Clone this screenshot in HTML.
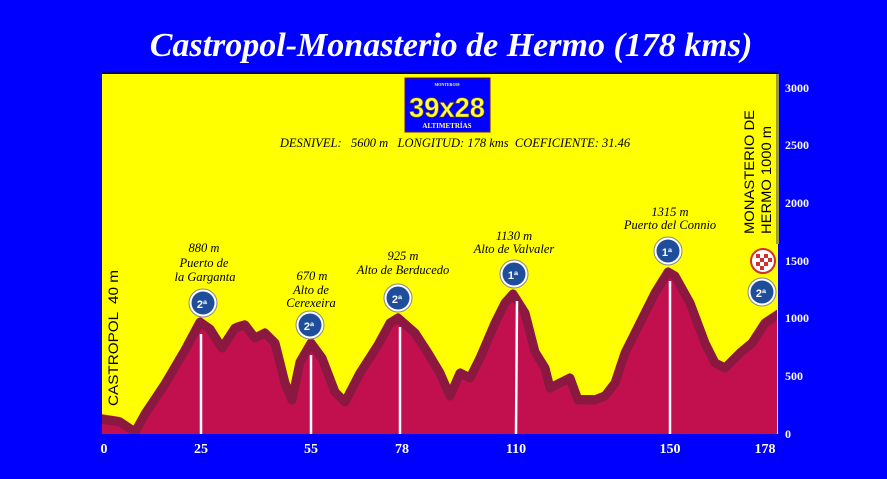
<!DOCTYPE html>
<html><head><meta charset="utf-8"><style>
body{margin:0;width:887px;height:479px;background:#0000ff;overflow:hidden}
svg{display:block}
.t{font-family:"Liberation Serif",serif;font-style:italic;font-size:12.5px;fill:#000}
.ax{font-family:"Liberation Serif",serif;font-weight:bold;fill:#fff}
</style></head><body>
<svg width="887" height="479" viewBox="0 0 887 479">
<defs><clipPath id="c"><rect x="102" y="74" width="675" height="360"/></clipPath></defs>
<rect x="0" y="0" width="887" height="479" fill="#0000ff"/>
<text x="451" y="56" text-anchor="middle" font-family="Liberation Serif,serif" font-style="italic" font-weight="bold" font-size="34" fill="#fff">Castropol-Monasterio de Hermo (178 kms)</text>
<rect x="102" y="71" width="676" height="4" fill="#000080"/>
<rect x="102" y="74" width="676" height="360" fill="#ffff00"/>
<rect x="776" y="74" width="3" height="170" fill="#9a9a40"/>
<g clip-path="url(#c)">
<polygon fill="#c2104f" points="100,414 120,417 135,427 145,409 165,379 185,345 200,317 210,324 222,343 235,323 245,320 255,333 265,328 275,338 285,378 292,395 300,357 311,338 322,353 335,387 345,397 360,368 378,340 390,318 398,313 415,328 428,348 440,368 450,391 460,368 470,373 480,353 495,318 505,298 513,289 525,308 535,347 545,363 550,383 560,378 570,373 578,395 595,395 605,391 615,378 625,348 640,318 655,288 668,267 675,271 690,298 705,338 715,358 725,363 740,348 752,338 765,318 780,308 780,436 100,436"/>
<polyline fill="none" stroke="#8a1840" stroke-width="9" stroke-linejoin="round" transform="translate(0,5)" points="100,414 120,417 135,427 145,409 165,379 185,345 200,317 210,324 222,343 235,323 245,320 255,333 265,328 275,338 285,378 292,395 300,357 311,338 322,353 335,387 345,397 360,368 378,340 390,318 398,313 415,328 428,348 440,368 450,391 460,368 470,373 480,353 495,318 505,298 513,289 525,308 535,347 545,363 550,383 560,378 570,373 578,395 595,395 605,391 615,378 625,348 640,318 655,288 668,267 675,271 690,298 705,338 715,358 725,363 740,348 752,338 765,318 780,308"/>
</g>
<g stroke="#fff" stroke-width="2.5">
<line x1="201" y1="334" x2="201" y2="434"/><line x1="311" y1="355" x2="311" y2="434"/>
<line x1="400" y1="327" x2="400" y2="434"/><line x1="517" y1="301" x2="516" y2="434"/>
<line x1="670" y1="281" x2="670" y2="434"/>
</g>
<g font-family="Liberation Sans,sans-serif" font-weight="bold" font-size="11" fill="#fff" text-anchor="middle">
<g><circle cx="203" cy="303" r="14" fill="#fff" stroke="#888"/><circle cx="203" cy="303" r="11.5" fill="#1e4e9a"/><text x="202" y="308">2ª</text></g>
<g><circle cx="310" cy="325" r="14" fill="#fff" stroke="#888"/><circle cx="310" cy="325" r="11.5" fill="#1e4e9a"/><text x="309" y="330">2ª</text></g>
<g><circle cx="398" cy="298" r="14" fill="#fff" stroke="#888"/><circle cx="398" cy="298" r="11.5" fill="#1e4e9a"/><text x="397" y="303">2ª</text></g>
<g><circle cx="514" cy="274" r="14" fill="#fff" stroke="#888"/><circle cx="514" cy="274" r="11.5" fill="#1e4e9a"/><text x="513" y="279">1ª</text></g>
<g><circle cx="668" cy="251" r="14" fill="#fff" stroke="#888"/><circle cx="668" cy="251" r="11.5" fill="#1e4e9a"/><text x="667" y="256">1ª</text></g>
<g><circle cx="762" cy="292" r="14" fill="#fff" stroke="#888"/><circle cx="762" cy="292" r="11.5" fill="#1e4e9a"/><text x="761" y="297">2ª</text></g>
</g>
<circle cx="763" cy="261" r="12" fill="#fff" stroke="#d03030" stroke-width="2"/>
<g fill="#d03030"><rect x="756" y="254" width="4" height="4"/><rect x="764" y="254" width="4" height="4"/><rect x="760" y="258" width="4" height="4"/><rect x="768" y="258" width="4" height="4"/><rect x="756" y="262" width="4" height="4"/><rect x="764" y="262" width="4" height="4"/><rect x="760" y="266" width="4" height="4"/></g>
<rect x="405" y="78" width="85" height="54" fill="#0000ff" stroke="#6a1030"/>
<text x="447" y="86" text-anchor="middle" font-family="Liberation Serif,serif" font-size="4" font-weight="bold" fill="#ffff60">MONTERO39</text>
<text x="447" y="117" text-anchor="middle" font-family="Liberation Sans,sans-serif" font-weight="bold" font-size="28" fill="#ffff40" stroke="#806000" stroke-width="0.6" textLength="76" lengthAdjust="spacingAndGlyphs">39x28</text>
<text x="447" y="128" text-anchor="middle" font-family="Liberation Serif,serif" font-weight="bold" font-size="7" fill="#ffff80">ALTIMETRÍAS</text>
<text x="455" y="147" text-anchor="middle" class="t" font-size="12" xml:space="preserve">DESNIVEL:   5600 m   LONGITUD: 178 kms  COEFICIENTE: 31.46</text>
<g class="t" text-anchor="middle">
<text x="204" y="252">880 m</text><text x="204" y="267">Puerto de</text><text x="205" y="281">la Garganta</text>
<text x="312" y="280">670 m</text><text x="311" y="294">Alto de</text><text x="311" y="307">Cerexeira</text>
<text x="403" y="260">925 m</text><text x="403" y="274">Alto de Berducedo</text>
<text x="514" y="240">1130 m</text><text x="514" y="253">Alto de Valvaler</text>
<text x="670" y="216">1315 m</text><text x="670" y="229">Puerto del Connio</text>
</g>
<text transform="translate(118,406) rotate(-90)" font-family="Liberation Sans,sans-serif" font-size="14" fill="#000" textLength="136" lengthAdjust="spacingAndGlyphs" xml:space="preserve">CASTROPOL  40 m</text>
<text transform="translate(754,234) rotate(-90)" font-family="Liberation Sans,sans-serif" font-size="14" fill="#000" textLength="124" lengthAdjust="spacingAndGlyphs">MONASTERIO DE</text>
<text transform="translate(771,234) rotate(-90)" font-family="Liberation Sans,sans-serif" font-size="14" fill="#000" textLength="108" lengthAdjust="spacingAndGlyphs">HERMO 1000 m</text>
<g class="ax" font-size="12">
<text x="785" y="92">3000</text><text x="785" y="149">2500</text><text x="785" y="207">2000</text><text x="785" y="265">1500</text><text x="785" y="322">1000</text><text x="785" y="380">500</text><text x="785" y="438">0</text>
</g>
<g class="ax" font-size="14" text-anchor="middle">
<text x="104" y="453">0</text><text x="201" y="453">25</text><text x="311" y="453">55</text><text x="402" y="453">78</text><text x="516" y="453">110</text><text x="670" y="453">150</text><text x="765" y="453">178</text>
</g>
</svg>
</body></html>
